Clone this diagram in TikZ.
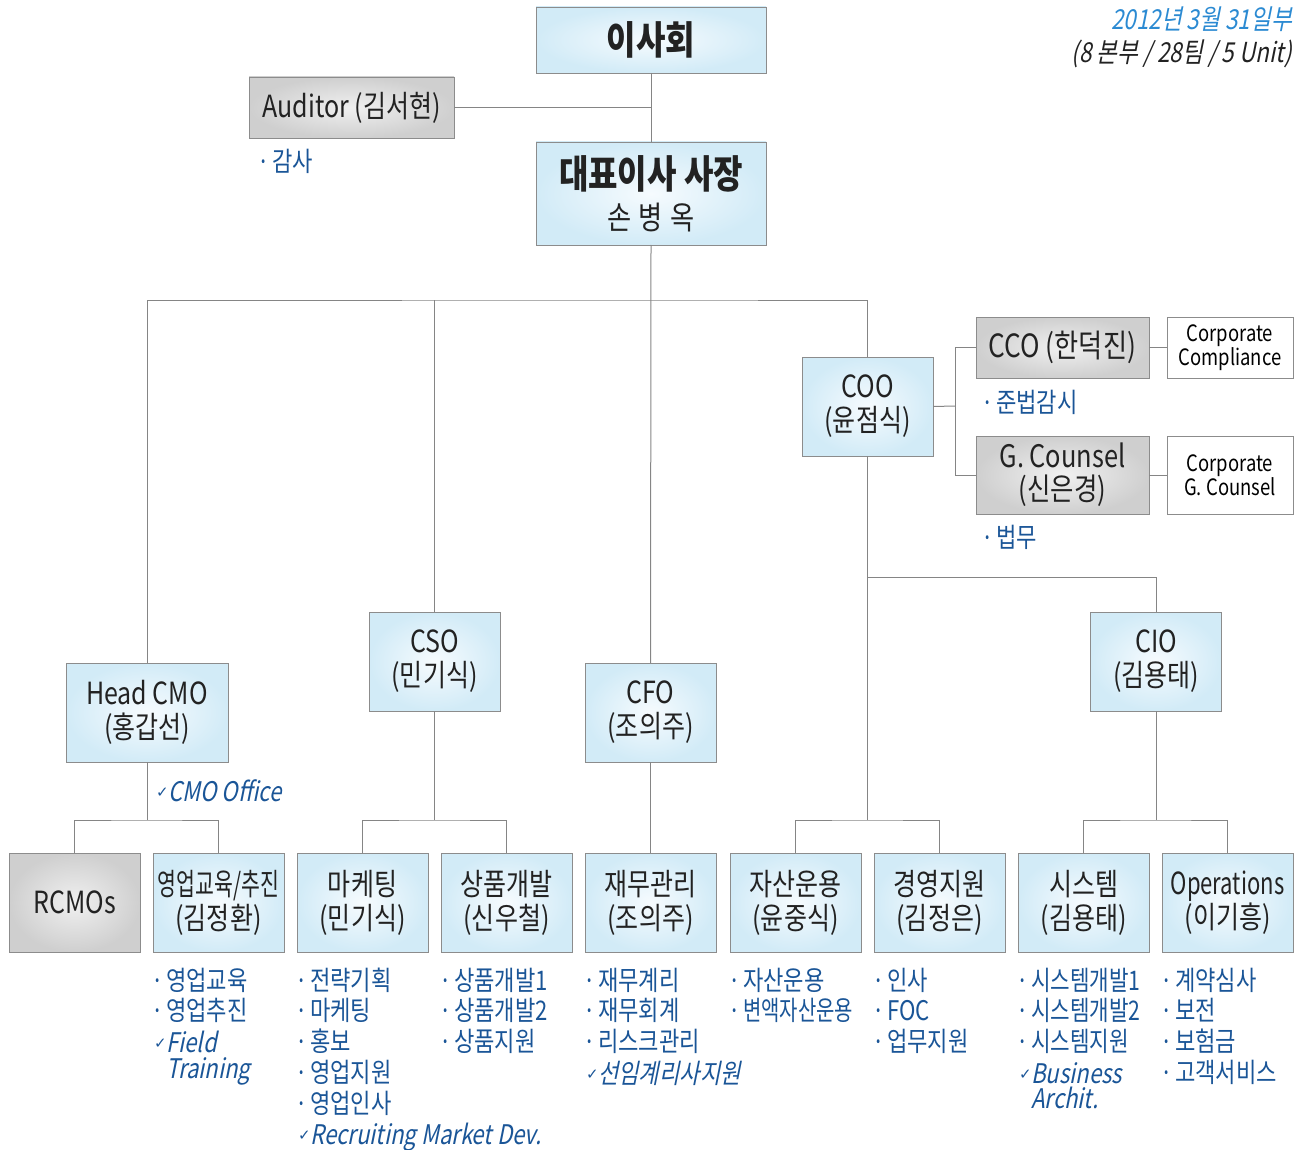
\documentclass[tikz,border=0pt]{standalone}
\usepackage{fontspec}
\setmainfont{Noto Sans CJK KR}[FakeStretch=0.82]
\newfontfamily\itfont{Noto Sans CJK KR}[FakeStretch=0.82,FakeSlant=0.2]
\newfontfamily\symfont{DejaVu Sans}
\definecolor{boxline}{HTML}{8C8C8C}
\definecolor{conn}{HTML}{858585}
\definecolor{bluein}{HTML}{F6FBFE}
\definecolor{blueout}{HTML}{D2EBF7}
\definecolor{grayin}{HTML}{F0F0F0}
\definecolor{grayout}{HTML}{CFCFCF}
\definecolor{itemblue}{HTML}{1A5597}
\definecolor{dateblue}{HTML}{2B8AD2}
\definecolor{txt}{HTML}{222222}
\newcommand{\dotb}{\makebox[13pt][l]{\hspace{-2pt}·}}
\newcommand{\chk}{\makebox[13pt][l]{\hspace{1pt}\raisebox{4pt}{\symfont\fontsize{15}{15}\selectfont ✓}}}
\tikzset{
  bbox/.style={draw=boxline, line width=0.9pt, inner color=bluein, outer color=blueout, outer sep=0pt, align=center, text=txt, font=\fontsize{30.5}{34}\selectfont, minimum width=131, minimum height=99},
  gbox/.style={bbox, inner color=grayin, outer color=grayout},
  wbox/.style={draw=boxline, line width=0.9pt, fill=white, outer sep=0pt, align=center, text=black, font=\fontsize{22.5}{24}\selectfont, minimum width=126},
  item/.style={anchor=base west, inner sep=0pt, text=itemblue, font=\fontsize{27}{27}\selectfont},
  itl/.style={item, font=\itfont\fontsize{27}{27}\selectfont},
  link/.style={draw=conn, line width=1pt}
}
\begin{document}
\begin{tikzpicture}[x=1pt,y=-1pt]
\useasboundingbox (0,0) rectangle (1300,1150);
% date
\node[anchor=base east, inner sep=0pt, text=dateblue, font=\itfont\fontsize{27.5}{27.5}\selectfont] (date) at (1292,30) {2012년 3월 31일부};
\node[anchor=base east, inner sep=0pt, text=txt, font=\itfont\fontsize{27.5}{27.5}\selectfont] (count) at (1292,63) {(8 본부 / 28팀 / 5 Unit)};
% top
\node[bbox, minimum width=230, minimum height=66, font=\bfseries\fontsize{39}{39}\selectfont] (board) at (651,40) {이사회};
\node[gbox, minimum width=205, minimum height=61, font=\fontsize{30.5}{30.5}\selectfont] (aud) at (351.5,107.5) {Auditor (김서현)};
\node[item] (audi) at (259,172) {\dotb 감사};
\node[bbox, minimum width=230, minimum height=103, font=\fontsize{32}{41}\selectfont] (ceo) at (651,193.5) {{\bfseries\fontsize{39}{39}\selectfont 대표이사 사장}\\손\kern7pt 병\kern7pt 옥};
% level 2
\node[bbox, minimum width=162] (cmo) at (147,712.5) {Head CMO\\(홍갑선)};
\node[bbox] (cso) at (434.5,661.5) {CSO\\(민기식)};
\node[bbox] (cfo) at (650.5,712.5) {CFO\\(조의주)};
\node[bbox] (coo) at (867.5,406.5) {COO\\(윤점식)};
\node[bbox] (cio) at (1156,661.5) {CIO\\(김용태)};
% compliance
\node[gbox, minimum width=173, minimum height=61, font=\fontsize{32}{32}\selectfont] (cco) at (1062.5,347.5) {CCO (한덕진)};
\node[gbox, minimum width=173, minimum height=78, font=\fontsize{31}{33}\selectfont] (gc) at (1062.5,475) {G. Counsel\\(신은경)};
\node[wbox, minimum height=61] (ccw) at (1230,347.5) {Corporate\\Compliance};
\node[wbox, minimum height=78] (gcw) at (1230,475) {Corporate\\G. Counsel};
\node[item] (ccoi) at (983,412) {\dotb 준법감시};
\node[item] (gci) at (983,547) {\dotb 법무};
\node[itl] (cmoo) at (155,801) {\chk CMO Office};
% bottom boxes
\node[gbox] (rc) at (74.5,902.5) {RCMOs};
\node[bbox] (edu) at (218.5,902.5) {\scalebox{0.82}[1]{영업교육/추진}\\(김정환)};
\node[bbox] (mkt) at (362.5,902.5) {마케팅\\(민기식)};
\node[bbox] (prd) at (506.5,902.5) {상품개발\\(신우철)};
\node[bbox] (fin) at (650.5,902.5) {재무관리\\(조의주)};
\node[bbox] (ast) at (795.5,902.5) {자산운용\\(윤중식)};
\node[bbox] (mgt) at (939.5,902.5) {경영지원\\(김정은)};
\node[bbox] (sys) at (1083.5,902.5) {시스템\\(김용태)};
\node[bbox] (ops) at (1227.5,902.5) {\scalebox{0.88}[1]{Operations}\\(이기흥)};
% items
\foreach \t [count=\i] in {영업교육,영업추진}
  \node[item] (edu\i) at (153,990+30.8*\i-30.8) {\dotb\t};
\node[itl] (edu3) at (153,1052) {\chk Field};
\node[itl] (edu4) at (166,1078) {Training};
\foreach \t [count=\i] in {전략기획,마케팅,홍보,영업지원,영업인사}
  \node[item] (mkt\i) at (297,990+30.8*\i-30.8) {\dotb\t};
\node[itl] (mkt6) at (297,1144) {\chk Recruiting Market Dev.};
\foreach \t [count=\i] in {상품개발1,상품개발2,상품지원}
  \node[item] (prd\i) at (441,990+30.8*\i-30.8) {\dotb\t};
\foreach \t [count=\i] in {재무계리,재무회계,리스크관리}
  \node[item] (fin\i) at (585,990+30.8*\i-30.8) {\dotb\t};
\node[itl] (fin4) at (585,1083) {\chk 선임계리사지원};
\node[item] (ast1) at (730,990) {\dotb 자산운용};
\node[item] (ast2) at (730,1020.8) {\dotb\scalebox{0.9}[1]{변액자산운용}};
\foreach \t [count=\i] in {인사,FOC,업무지원}
  \node[item] (mgt\i) at (874,990+30.8*\i-30.8) {\dotb\t};
\foreach \t [count=\i] in {시스템개발1,시스템개발2,시스템지원}
  \node[item] (sys\i) at (1018,990+30.8*\i-30.8) {\dotb\scalebox{0.96}[1]{\t}};
\node[itl] (sys4) at (1018,1083) {\chk Business};
\node[itl] (sys5) at (1031,1108) {Archit.};
\foreach \t [count=\i] in {계약심사,보전,보험금,고객서비스}
  \node[item] (ops\i) at (1162,990+30.8*\i-30.8) {\dotb\t};
% connectors
\coordinate (bus) at (651,300);
\coordinate (cj) at (955,406);
\coordinate (cb) at (867,577);
\coordinate (lb) at (0,820);
\draw[link] (board.south) -- (ceo.north);
\draw[link] (aud.east) -- (aud.east -| board.south);
\draw[link] (ceo.south) -- (cfo.north);
\draw[link] (cmo.north) |- (bus) -| (coo.north);
\draw[link] (cso.north) -- (cso.north |- bus);
\draw[link] (coo.east) -- (cj);
\draw[link] (cco.west) -| (cj) |- (gc.west);
\draw[link] (cco.east) -- (ccw.west);
\draw[link] (gc.east) -- (gcw.west);
\draw[link] (coo.south) -- (coo.south |- lb);
\draw[link] (coo.south |- cb) -| (cio.north);
\draw[link] (cmo.south) -- (cmo.south |- lb);
\draw[link] (rc.north) |- (cmo.south |- lb) -| (edu.north);
\draw[link] (cso.south) -- (cso.south |- lb);
\draw[link] (mkt.north) |- (cso.south |- lb) -| (prd.north);
\draw[link] (cfo.south) -- (fin.north);
\draw[link] (ast.north) |- (coo.south |- lb) -| (mgt.north);
\draw[link] (cio.south) -- (cio.south |- lb);
\draw[link] (sys.north) |- (cio.south |- lb) -| (ops.north);
\end{tikzpicture}
\end{document}
